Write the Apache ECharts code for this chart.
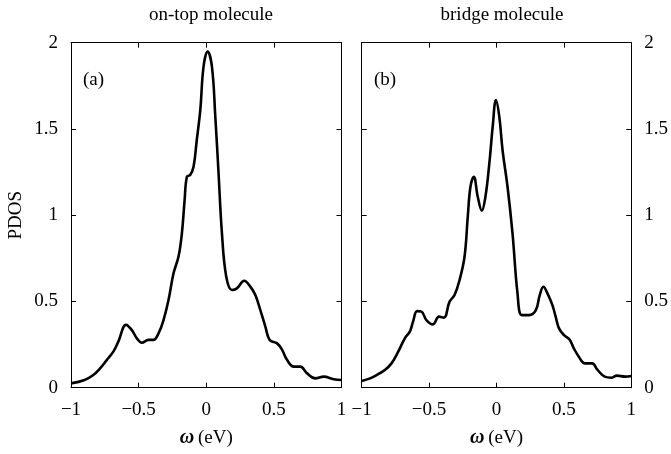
<!DOCTYPE html>
<html><head><meta charset="utf-8">
<script src="https://cdn.jsdelivr.net/npm/echarts@6/dist/echarts.min.js"></script>
<style>html,body{margin:0;padding:0;background:#fff}#c{width:671px;height:454px}</style>
</head><body><div id="c"></div>
<script>
const panelTitles = ['on-top molecule', 'bridge molecule'];
const panelLabels = ['(a)', '(b)'];
const xTicks = [-1, -0.5, 0, 0.5, 1];
const yTicks = [0, 0.5, 1, 1.5, 2];

const omegaA = [-1, -0.9, -0.835, -0.785, -0.736, -0.687, -0.65, -0.593, -0.55, -0.513, -0.476, -0.427, -0.39, -0.353, -0.316, -0.279, -0.242, -0.205, -0.18, -0.16, -0.143, -0.119, -0.094, -0.07, -0.044, -0.02, 0.01, 0.042, 0.067, 0.091, 0.116, 0.148, 0.19, 0.227, 0.281, 0.326, 0.363, 0.4, 0.437, 0.469, 0.524, 0.561, 0.598, 0.647, 0.696, 0.746, 0.807, 0.869, 0.943, 1];
const pdosA = [0.025, 0.045, 0.074, 0.112, 0.16, 0.209, 0.267, 0.364, 0.334, 0.286, 0.261, 0.277, 0.277, 0.315, 0.392, 0.508, 0.663, 0.76, 0.895, 1.088, 1.223, 1.233, 1.281, 1.436, 1.61, 1.861, 1.948, 1.861, 1.571, 1.243, 0.895, 0.643, 0.566, 0.576, 0.62, 0.586, 0.537, 0.45, 0.354, 0.277, 0.257, 0.219, 0.16, 0.122, 0.122, 0.083, 0.054, 0.064, 0.049, 0.045];

const omegaB = [-1, -0.938, -0.877, -0.828, -0.779, -0.729, -0.68, -0.643, -0.619, -0.589, -0.557, -0.52, -0.471, -0.427, -0.39, -0.348, -0.311, -0.274, -0.237, -0.213, -0.193, -0.168, -0.139, -0.109, -0.082, -0.053, -0.028, -0.004, 0.021, 0.045, 0.082, 0.119, 0.156, 0.188, 0.242, 0.292, 0.321, 0.348, 0.378, 0.415, 0.439, 0.464, 0.501, 0.542, 0.574, 0.611, 0.656, 0.71, 0.747, 0.803, 0.852, 0.894, 0.956, 1];
const pdosB = [0.039, 0.054, 0.079, 0.102, 0.141, 0.209, 0.286, 0.325, 0.383, 0.444, 0.441, 0.392, 0.367, 0.412, 0.406, 0.499, 0.537, 0.624, 0.759, 0.991, 1.165, 1.223, 1.107, 1.026, 1.107, 1.3, 1.513, 1.668, 1.571, 1.378, 1.165, 0.895, 0.547, 0.421, 0.421, 0.45, 0.537, 0.585, 0.547, 0.479, 0.412, 0.344, 0.305, 0.28, 0.228, 0.18, 0.141, 0.141, 0.106, 0.064, 0.058, 0.07, 0.064, 0.068];

const FONT = 'Liberation Serif';
const FS = 19;
const fmt = v => (v < 0 ? '\u2212' + (-v) : String(v));
const pair = (xs, ys) => xs.map((x, i) => [x, ys[i]]);

function xAx(grid, pos, labels, name) {
  return {
    type: 'value', gridIndex: grid, position: pos, min: xTicks[0], max: xTicks[xTicks.length - 1], interval: 0.5,
    axisLine: { show: true, onZero: false, lineStyle: { color: '#000', width: 1 } },
    axisTick: { show: true, inside: true, length: 5, lineStyle: { color: '#000' } },
    axisLabel: { show: labels, formatter: fmt, color: '#000', fontFamily: FONT, fontSize: FS, margin: 13 },
    splitLine: { show: false },
    name: name || '', nameLocation: 'middle', nameGap: 40,
    nameTextStyle: { color: '#000', fontFamily: FONT, fontSize: FS,
      rich: { w: { fontFamily: FONT, fontStyle: 'italic', fontWeight: 'bold', fontSize: 20, color: '#000' },
              t: { fontFamily: FONT, fontSize: FS, color: '#000' } } }
  };
}
function yAx(grid, pos, labels, name) {
  return {
    type: 'value', gridIndex: grid, position: pos, min: yTicks[0], max: yTicks[yTicks.length - 1], interval: 0.5,
    axisLine: { show: true, onZero: false, lineStyle: { color: '#000', width: 1 } },
    axisTick: { show: true, inside: true, length: 5, lineStyle: { color: '#000' } },
    axisLabel: { show: labels, formatter: fmt, color: '#000', fontFamily: FONT, fontSize: FS, margin: 13 },
    splitLine: { show: false },
    name: name || '', nameLocation: 'middle', nameGap: 45, nameRotate: 90,
    nameTextStyle: { color: '#000', fontFamily: FONT, fontSize: FS }
  };
}
const xname = '{w|\u03c9}{t|\u2009(eV)}';
const chart = echarts.init(document.getElementById('c'), null, { renderer: 'canvas' });
const tStyle = { fontFamily: FONT, fontSize: FS, fontWeight: 'normal', color: '#000' };
chart.setOption({
  animation: false,
  backgroundColor: '#fff',
  title: [
    { text: panelTitles[0], left: 206, top: 1, textAlign: 'center', textStyle: tStyle },
    { text: panelTitles[1], left: 497, top: 1, textAlign: 'center', textStyle: tStyle },
    { text: panelLabels[0], left: 78, top: 66, textStyle: tStyle },
    { text: panelLabels[1], left: 369, top: 66, textStyle: tStyle }
  ],
  grid: [
    { left: 71, right: 329.5, top: 42.7, bottom: 66.3 },
    { left: 361.7, right: 38.3, top: 42.7, bottom: 66.3 }
  ],
  xAxis: [xAx(0, 'bottom', true, xname), xAx(0, 'top', false), xAx(1, 'bottom', true, xname), xAx(1, 'top', false)],
  yAxis: [yAx(0, 'left', true, 'PDOS'), yAx(0, 'right', false), yAx(1, 'left', false), yAx(1, 'right', true)],
  series: [
    { type: 'line', xAxisIndex: 0, yAxisIndex: 0, data: pair(omegaA, pdosA), smooth: 0.4, symbol: 'none', lineStyle: { color: '#000', width: 2.6 } },
    { type: 'line', xAxisIndex: 2, yAxisIndex: 3, data: pair(omegaB, pdosB), smooth: 0.4, symbol: 'none', lineStyle: { color: '#000', width: 2.6 } }
  ]
});
</script></body></html>
